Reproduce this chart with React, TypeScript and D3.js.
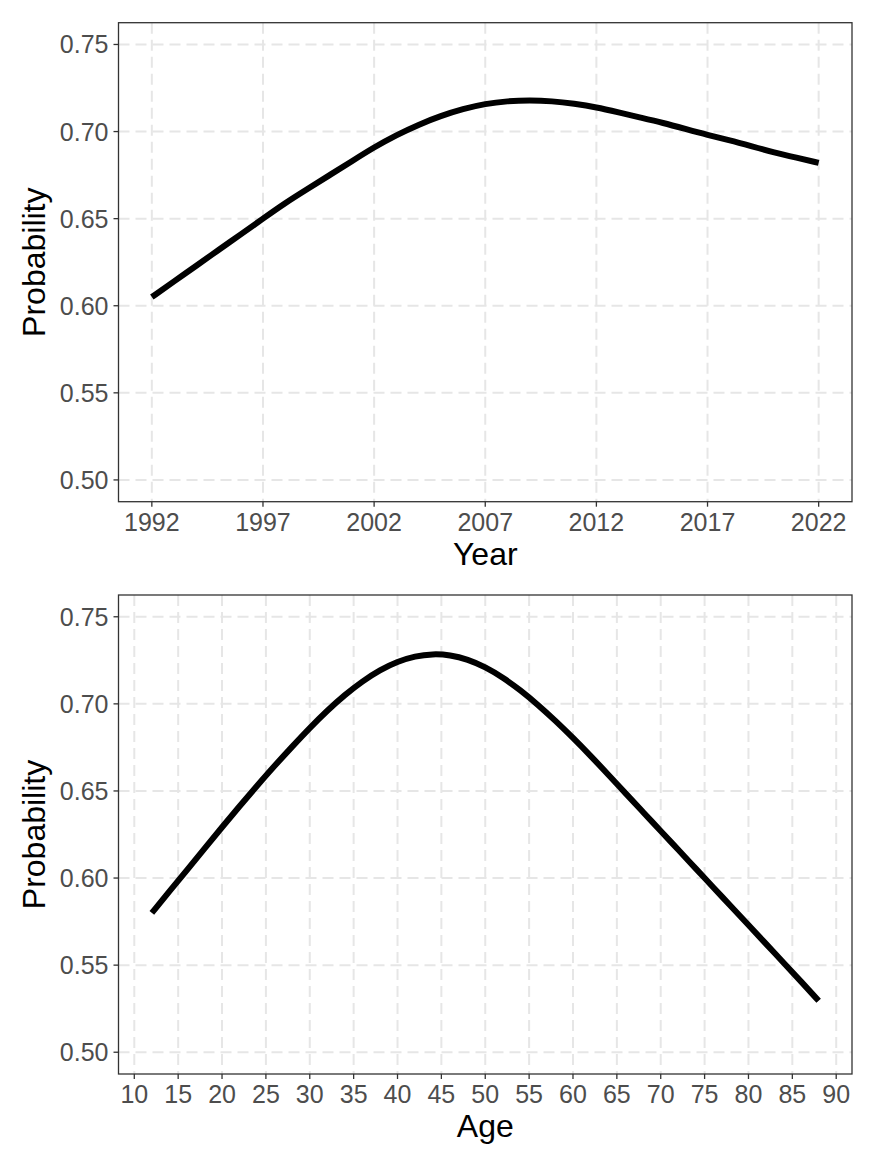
import * as d3 from "d3";

// top panel: probability by survey year
const years = [
  1992, 1993, 1994, 1995, 1996, 1997, 1998, 1999, 2000, 2001, 2002, 2003, 2004, 2005, 2006, 2007,
  2008, 2009, 2010, 2011, 2012, 2013, 2014, 2015, 2016, 2017, 2018, 2019, 2020, 2021, 2022,
];
const yearProb = [
  0.605, 0.614, 0.623, 0.632, 0.641, 0.65, 0.659, 0.667, 0.675, 0.683, 0.691, 0.698, 0.704, 0.709,
  0.713, 0.716, 0.7175, 0.718, 0.7175, 0.716, 0.714, 0.711, 0.708, 0.705, 0.7015, 0.698, 0.695,
  0.6915, 0.688, 0.685, 0.682,
];
const yearTicks = [1992, 1997, 2002, 2007, 2012, 2017, 2022];

// bottom panel: probability by age
const ages = [
  12, 14, 16, 18, 20, 22, 24, 26, 28, 30, 32, 34, 36, 38, 40, 42, 44, 46, 48, 50, 52, 54, 56, 58,
  60, 62, 64, 66, 68, 70, 72, 74, 76, 78, 80, 82, 84, 86, 88,
];
const ageProb = [
  0.58, 0.5923, 0.6046, 0.6169, 0.6292, 0.6413, 0.653, 0.6645, 0.6755, 0.6862, 0.6962, 0.7052,
  0.713, 0.7195, 0.7243, 0.7274, 0.7287, 0.7281, 0.7256, 0.7212, 0.7152, 0.7079, 0.6995, 0.6903,
  0.6805, 0.6702, 0.6595, 0.6486, 0.6378, 0.627, 0.6162, 0.6054, 0.5946, 0.5838, 0.573, 0.5622,
  0.5514, 0.5406, 0.5295,
];
const ageTicks = [10, 15, 20, 25, 30, 35, 40, 45, 50, 55, 60, 65, 70, 75, 80, 85, 90];

const probTicks = [0.5, 0.55, 0.6, 0.65, 0.7, 0.75];

const W = 875;
const H = 1167;
const FONT = "'Liberation Sans', Arial, sans-serif";

type PanelProps = {
  xs: number[];
  ys: number[];
  xTicks: number[];
  xDomain: [number, number];
  top: number;
  xLabel: string;
};

const Panel = ({ xs, ys, xTicks, xDomain, top, xLabel }: PanelProps) => {
  const left = 118.5;
  const right = 852;
  const bottom = top + 479;

  const x = d3.scaleLinear().domain(xDomain).range([left, right]);
  const y = d3.scaleLinear().domain([0.4875, 0.7625]).range([bottom, top]);

  const line = d3
    .line<number>()
    .x((d, i) => x(xs[i]))
    .y((d) => y(d))
    .curve(d3.curveBasis);

  const cx = (left + right) / 2;
  const cy = (top + bottom) / 2;

  return (
    <g>
      <rect x={left} y={top} width={right - left} height={bottom - top} fill="#fff" />
      {/* grid */}
      {xTicks.map((t) => (
        <line key={"gx" + t} x1={x(t)} x2={x(t)} y1={top} y2={bottom}
          stroke="#E6E6E6" strokeWidth={2} strokeDasharray="11,6" />
      ))}
      {probTicks.map((t) => (
        <line key={"gy" + t} x1={left} x2={right} y1={y(t)} y2={y(t)}
          stroke="#E6E6E6" strokeWidth={2} strokeDasharray="11,6" />
      ))}
      <path d={line(ys) || ""} fill="none" stroke="#000" strokeWidth={6} strokeLinejoin="round" />
      <rect x={left} y={top} width={right - left} height={bottom - top}
        fill="none" stroke="#333" strokeWidth={1.3} />
      {/* y axis */}
      {probTicks.map((t) => (
        <g key={"ty" + t}>
          <line x1={left - 5} x2={left} y1={y(t)} y2={y(t)} stroke="#333" strokeWidth={1.3} />
          <text x={left - 10} y={y(t)} dy="0.36em" textAnchor="end" fontSize={25} fill="#4D4D4D">
            {d3.format(".2f")(t)}
          </text>
        </g>
      ))}
      {/* x axis */}
      {xTicks.map((t) => (
        <g key={"tx" + t}>
          <line x1={x(t)} x2={x(t)} y1={bottom} y2={bottom + 5} stroke="#333" strokeWidth={1.3} />
          <text x={x(t)} y={bottom + 29} textAnchor="middle" fontSize={25} fill="#4D4D4D">
            {t}
          </text>
        </g>
      ))}
      <text x={cx} y={bottom + 63} textAnchor="middle" fontSize={32} fill="#000">
        {xLabel}
      </text>
      <text transform={`translate(45,${cy}) rotate(-90)`} textAnchor="middle" fontSize={32} fill="#000">
        Probability
      </text>
    </g>
  );
};

export default function App() {
  return (
    <svg width={W} height={H} style={{ position: "absolute", left: 0, top: 0, background: "#fff" }}
      fontFamily={FONT}>
      <rect width={W} height={H} fill="#fff" />
      <Panel xs={years} ys={yearProb} xTicks={yearTicks} xDomain={[1990.5, 2023.5]} top={22.7} xLabel="Year" />
      <Panel xs={ages} ys={ageProb} xTicks={ageTicks} xDomain={[8.2, 91.8]} top={595} xLabel="Age" />
    </svg>
  );
}
